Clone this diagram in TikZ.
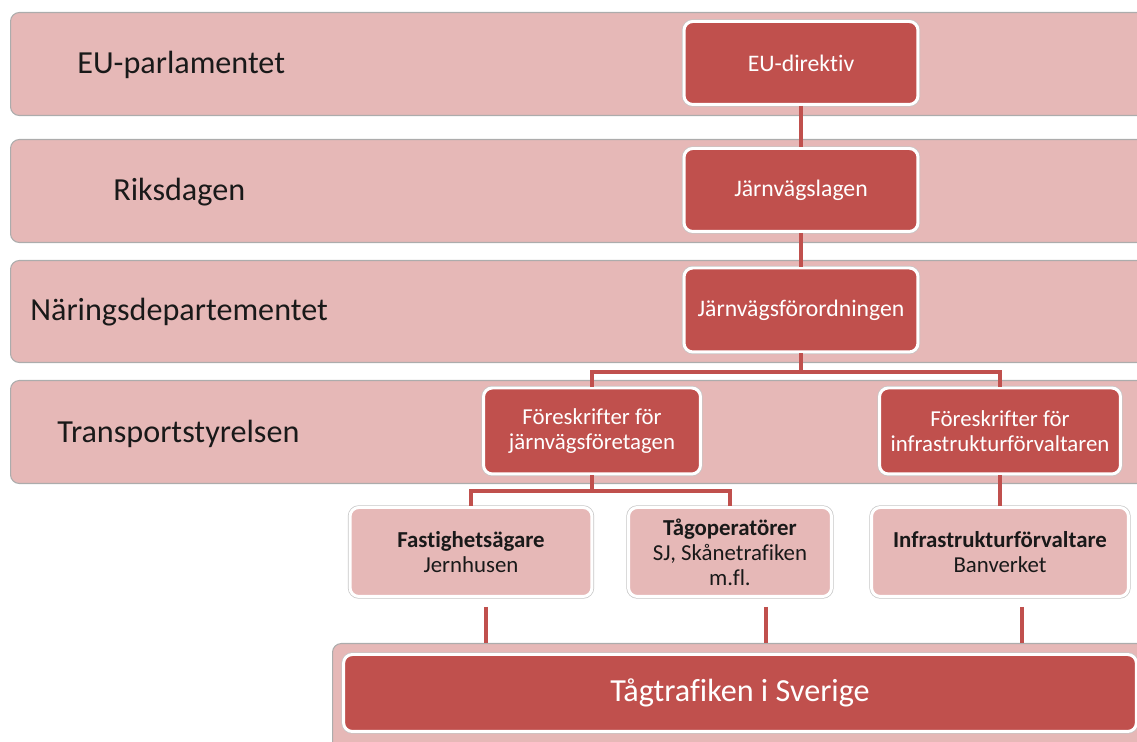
\documentclass[tikz,border=0pt]{standalone}
\usepackage{fontspec}
\setmainfont[Ligatures=NoCommon]{Carlito}
\usetikzlibrary{positioning}
\definecolor{morkrod}{HTML}{C0504D}
\definecolor{ljusrod}{HTML}{E6B8B7}
\tikzset{
    band/.style={draw=gray!65, fill=ljusrod, rounded corners=5pt, line width=0.6pt, anchor=north west},
    rubrik/.style={anchor=west, inner sep=0pt, text=black!90, font=\fontsize{18.3}{22}\selectfont},
    morkbox/.style={fill=morkrod, draw=white, line width=1.7pt, rounded corners=5pt, text=white,
        align=center, font=\fontsize{13.5}{14.2}\selectfont, preaction={draw=gray!45, line width=2.5pt}},
    ljusbox/.style={fill=ljusrod, draw=white, line width=1.7pt, rounded corners=5pt, text=black!90,
        align=center, font=\fontsize{13}{14.2}\selectfont, preaction={draw=gray!45, line width=2.5pt}},
    linje/.style={draw=morkrod, line width=2pt}
}
\begin{document}
\begin{tikzpicture}[x=0.02cm, y=-0.02cm]
    \useasboundingbox (0,0) rectangle (1137,742);
    % nivaer
    \node[band, minimum width=23cm, minimum height=2.06cm] (b1) at (10,12) {};
    \node[band, minimum width=23cm, minimum height=2.06cm] (b2) at (10,139) {};
    \node[band, minimum width=23cm, minimum height=2.04cm] (b3) at (10,260) {};
    \node[band, minimum width=23cm, minimum height=2.06cm] (b4) at (10,380) {};
    \node[band, minimum width=17cm, minimum height=2.5cm] (botten) at (332,643) {};
    \node[rubrik] (parlament) at (77,65) {EU-parlamentet};
    \node[rubrik] (riksdag) at (113,192) {Riksdagen};
    \node[rubrik] (departement) at (30,312) {Näringsdepartementet};
    \node[rubrik] (styrelse) at (57,434) {Transportstyrelsen};
    % rutor
    \coordinate (g1) at (801,372);
    \coordinate (g2) at (592,491);
    \coordinate (s1) at (486,607);
    \coordinate (s2) at (766,607);
    \coordinate (s3) at (1022,607);
    \node[morkbox, minimum width=4.68cm, minimum height=1.66cm] (direktiv) at (801,63) {EU-direktiv};
    \node[morkbox, minimum width=4.68cm, minimum height=1.66cm] (lag) at (801,190) {Järnvägslagen};
    \node[morkbox, minimum width=4.68cm, minimum height=1.68cm] (forordning) at (801,310) {Järnvägsförordningen};
    \node[morkbox, minimum width=4.34cm, minimum height=1.72cm, font=\fontsize{13}{14.2}\selectfont] (fj) at (592,431) {Föreskrifter för\\järnvägsföretagen};
    \node[morkbox, minimum width=4.82cm, minimum height=1.72cm, font=\fontsize{13}{14.2}\selectfont] (fi) at (1000,431) {Föreskrifter för\\infrastrukturförvaltaren};
    \node[ljusbox, minimum width=4.84cm, minimum height=1.78cm] (fastighet) at (471,552) {\textbf{Fastighetsägare}\\Jernhusen};
    \node[ljusbox, minimum width=4.06cm, minimum height=1.78cm] (operator) at (730,552) {\textbf{Tågoperatörer}\\SJ, Skånetrafiken\\m.fl.};
    \node[ljusbox, minimum width=5.14cm, minimum height=1.78cm] (infra) at (1000,552) {\textbf{Infrastrukturförvaltare}\\Banverket};
    \node[morkbox, minimum width=15.86cm, minimum height=1.54cm, font=\fontsize{18.3}{22}\selectfont] (trafik) at (740,693) {Tågtrafiken i Sverige};
    % linjer
    \draw[linje] (direktiv) -- (lag);
    \draw[linje] (lag) -- (forordning);
    \draw[linje] (forordning) -- (g1) -| (fj);
    \draw[linje] (g1) -| (fi);
    \draw[linje] (fj) -- (g2) -| (fastighet);
    \draw[linje] (g2) -| (operator);
    \draw[linje] (fi) -- (infra);
    \draw[linje] (s1) -- (s1 |- botten.north);
    \draw[linje] (s2) -- (s2 |- botten.north);
    \draw[linje] (s3) -- (s3 |- botten.north);
\end{tikzpicture}
\end{document}
